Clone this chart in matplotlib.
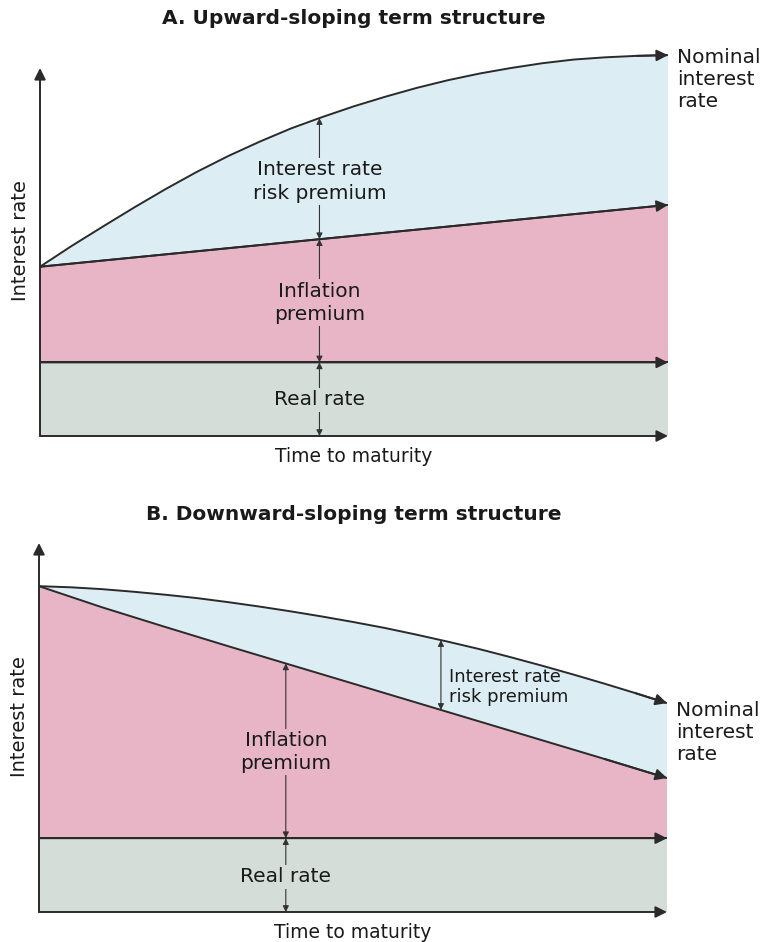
import numpy as np
import matplotlib
matplotlib.use('Agg')
import matplotlib.pyplot as plt

# Values (rate in arbitrary units, time to maturity 0..10)
maturity = [0, 0.5, 1, 1.5, 2, 2.5, 3, 3.5, 4, 4.5, 5,
            5.5, 6, 6.5, 7, 7.5, 8, 8.5, 9, 9.5, 10]

# A. upward sloping
nominal_up = [4.60, 5.16, 5.69, 6.21, 6.71, 7.18, 7.61, 8.00, 8.36, 8.67, 8.96,
              9.22, 9.46, 9.67, 9.85, 10.00, 10.13, 10.23, 10.29, 10.33, 10.35]
inflation_up_t = [0, 10]
inflation_up = [4.60, 6.28]

# B. downward sloping
nominal_down = [8.83, 8.80, 8.75, 8.68, 8.60, 8.51, 8.40, 8.28, 8.15, 8.01, 7.86,
                7.70, 7.52, 7.33, 7.13, 6.91, 6.68, 6.44, 6.19, 5.93, 5.66]
inflation_down_t = [0, 1, 2, 3, 4, 5, 6, 7, 8, 9, 10]
inflation_down = [8.83, 8.26, 7.73, 7.21, 6.70, 6.19, 5.68, 5.17, 4.66, 4.15, 3.63]

real_t = [0, 10]
real_rate = [2.0, 2.0]

BLUE = '#dcedf3'
PINK = '#e8b5c6'
GREEN = '#d4ddd8'
LINE = '#2a2a2a'
TEXT = '#1a1a1a'

W, H = 773, 942
fig = plt.figure(figsize=(W / 100, H / 100), dpi=100)


def head(ax, x0, y0, x1, y1, ms=17, lw=1.4):
    ax.annotate('', xy=(x1, y1), xytext=(x0, y0),
                arrowprops=dict(arrowstyle='-|>', color=LINE, lw=lw,
                                mutation_scale=ms, shrinkA=0, shrinkB=0),
                annotation_clip=False)


def band_arrow(ax, x, y0, y1):
    ax.annotate('', xy=(x, y1), xytext=(x, y0),
                arrowprops=dict(arrowstyle='<|-|>', color='#333333', lw=0.8,
                                mutation_scale=9, shrinkA=0, shrinkB=0),
                annotation_clip=False, zorder=4)


def panel(ax, t_nom, nom, t_inf, infl, title, title_y, nom_label_y):
    ax.set_xlim(0, 10)
    ax.set_ylim(0, 10.6)
    for s in ax.spines.values():
        s.set_visible(False)
    ax.set_xticks([])
    ax.set_yticks([])
    ax.patch.set_alpha(0)
    h_px = ax.get_position().height * H
    w_px = ax.get_position().width * W

    # bands
    ax.fill_between(real_t, 0, real_rate, color=GREEN, lw=0)
    ax.fill(list(t_inf) + real_t[::-1], list(infl) + real_rate[::-1], color=PINK, lw=0)
    ax.fill(list(t_nom) + list(t_inf)[::-1], list(nom) + list(infl)[::-1], color=BLUE, lw=0)

    # curves with arrow heads
    ax.plot(t_nom, nom, color=LINE, lw=1.4, solid_capstyle='butt')
    head(ax, t_nom[-2], nom[-2], t_nom[-1], nom[-1])
    ax.plot(t_inf, infl, color=LINE, lw=1.4, solid_capstyle='butt')
    head(ax, t_inf[-2], infl[-2], t_inf[-1], infl[-1])
    ax.plot(real_t, real_rate, color=LINE, lw=1.4)
    head(ax, real_t[0], real_rate[0], real_t[-1], real_rate[-1])

    # axes
    head(ax, 0, 0, 10, 0)
    head(ax, 0, 0, 0, 10)

    ax.text(-19 / w_px, 0.5, 'Interest rate', transform=ax.transAxes, rotation=90,
            fontsize=14, ha='center', va='center', color=TEXT)
    ax.text(0.5, -20 / h_px, 'Time to maturity', transform=ax.transAxes,
            fontsize=13.5, ha='center', va='center', color=TEXT)

    fig.text(0.458, title_y, title, fontsize=14.5, fontweight='bold',
             ha='center', va='center', color=TEXT)
    ax.text(1.014, nom_label_y, 'Nominal\ninterest\nrate', transform=ax.transAxes,
            fontsize=14.5, ha='left', va='center', linespacing=1.2, color=TEXT)


def label(ax, x, y, s, bg, ls=1.25, size=14.5):
    ax.text(x, y, s, fontsize=size, ha='center', va='center', linespacing=ls,
            color=TEXT, zorder=5,
            bbox=dict(boxstyle='square,pad=0.12', fc=bg, ec='none'))


# ---- Panel A ----
axA = fig.add_axes([40 / W, (H - 436) / H, 628 / W, 10.6 * 36.8 / H])
panel(axA, maturity, nominal_up, inflation_up_t, inflation_up,
      'A. Upward-sloping term structure', (H - 18) / H, 0.913)

ta = 4.45
nom_a = np.interp(ta, maturity, nominal_up)
inf_a = np.interp(ta, inflation_up_t, inflation_up)
band_arrow(axA, ta, inf_a, nom_a)
band_arrow(axA, ta, real_rate[0], inf_a)
band_arrow(axA, ta, 0, real_rate[0])
label(axA, ta, (nom_a + inf_a) / 2 - 0.08, 'Interest rate\nrisk premium', BLUE, ls=1.3)
label(axA, ta, (inf_a + real_rate[0]) / 2 - 0.05, 'Inflation\npremium', PINK)
label(axA, ta, real_rate[0] / 2 - 0.02, 'Real rate', GREEN)

# ---- Panel B ----
axB = fig.add_axes([39 / W, (H - 912) / H, 628 / W, 10.6 * 36.9 / H])
panel(axB, maturity, nominal_down, inflation_down_t, inflation_down,
      'B. Downward-sloping term structure', (H - 515) / H, 0.46)

tb = 3.93
inf_b = np.interp(tb, inflation_down_t, inflation_down)
band_arrow(axB, tb, real_rate[0], inf_b)
band_arrow(axB, tb, 0, real_rate[0])
label(axB, tb, (inf_b + real_rate[0]) / 2 - 0.03, 'Inflation\npremium', PINK)
label(axB, tb, real_rate[0] / 2 - 0.05, 'Real rate', GREEN)

tr = 6.40
nom_b = np.interp(tr, maturity, nominal_down)
inf_b2 = np.interp(tr, inflation_down_t, inflation_down)
band_arrow(axB, tr, inf_b2, nom_b)
axB.text(tr + 0.13, 6.1, 'Interest rate\nrisk premium', fontsize=13, ha='left',
         va='center', linespacing=1.2, color=TEXT, zorder=5)

fig.savefig('out.png', dpi=100)
